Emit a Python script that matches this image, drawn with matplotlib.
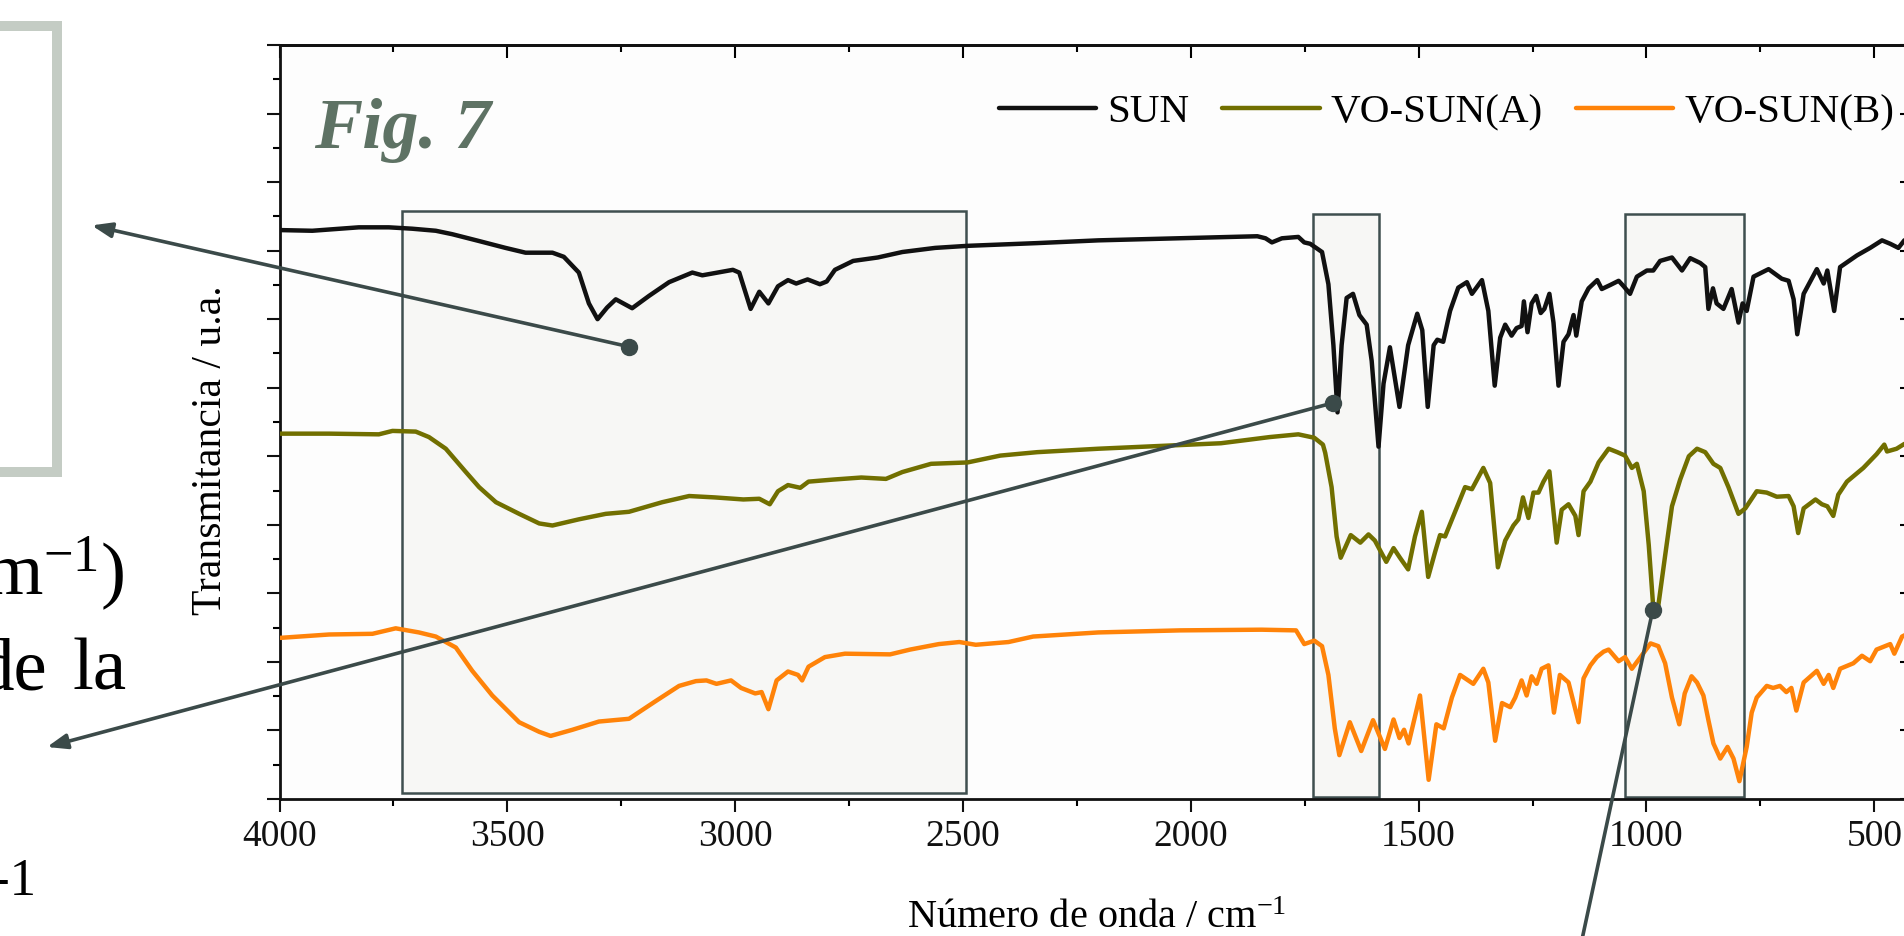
import matplotlib
matplotlib.use('Agg')
import matplotlib.pyplot as plt
from matplotlib.ticker import MultipleLocator, NullFormatter
from matplotlib.patches import Rectangle

plt.rcParams['font.family'] = ['Liberation Serif', 'DejaVu Serif']
plt.rcParams['mathtext.fontset'] = 'custom'
plt.rcParams['mathtext.rm'] = 'Liberation Serif'
plt.rcParams['mathtext.it'] = 'Liberation Serif:italic'

# --- data (wavenumber in cm-1, transmittance offset in a.u.) ---
sun_wn = [4000, 3928, 3826, 3760, 3709, 3657, 3621, 3562, 3504, 3460,
          3401, 3376, 3343, 3321, 3302, 3281, 3262, 3226, 3189, 3145,
          3094, 3072, 3005, 2991, 2966, 2947, 2927, 2906, 2884, 2866,
          2841, 2814, 2799, 2781, 2741, 2687, 2633, 2561, 2490, 2337,
          2203, 2024, 1854, 1836, 1822, 1800, 1764, 1751, 1738, 1712,
          1698, 1687, 1678, 1669, 1658, 1644, 1630, 1614, 1603, 1588,
          1577, 1563, 1542, 1523, 1503, 1492, 1480, 1467, 1459, 1446,
          1431, 1413, 1394, 1383, 1361, 1347, 1333, 1321, 1310, 1296,
          1285, 1274, 1269, 1261, 1252, 1242, 1232, 1224, 1213, 1204,
          1193, 1182, 1171, 1160, 1154, 1142, 1127, 1108, 1098, 1079,
          1061, 1050, 1036, 1021, 999, 985, 970, 944, 922, 904,
          882, 871, 864, 854, 846, 831, 813, 798, 789, 780,
          765, 732, 703, 688, 677, 669, 655, 626, 611, 603,
          588, 575, 538, 509, 483, 465, 447, 434, 415]
sun_t = [8.30, 8.29, 8.34, 8.34, 8.32, 8.29, 8.24, 8.14, 8.04, 7.97,
         7.97, 7.91, 7.68, 7.23, 7.00, 7.17, 7.29, 7.16, 7.34, 7.54,
         7.68, 7.64, 7.72, 7.68, 7.15, 7.40, 7.23, 7.48, 7.57, 7.52,
         7.58, 7.51, 7.55, 7.72, 7.85, 7.90, 7.98, 8.04, 8.07, 8.11,
         8.15, 8.18, 8.21, 8.18, 8.12, 8.18, 8.20, 8.12, 8.10, 7.98,
         7.51, 6.62, 5.64, 6.62, 7.31, 7.37, 7.06, 6.92, 6.39, 5.14,
         6.06, 6.59, 5.72, 6.62, 7.08, 6.84, 5.72, 6.62, 6.70, 6.67,
         7.12, 7.46, 7.54, 7.37, 7.57, 7.12, 6.03, 6.73, 6.92, 6.76,
         6.87, 6.90, 7.26, 6.81, 7.23, 7.34, 7.09, 7.15, 7.37, 6.95,
         6.03, 6.67, 6.78, 7.06, 6.76, 7.26, 7.45, 7.57, 7.44, 7.50,
         7.56, 7.48, 7.37, 7.62, 7.71, 7.71, 7.85, 7.90, 7.71, 7.89,
         7.82, 7.76, 7.15, 7.45, 7.23, 7.15, 7.44, 6.95, 7.23, 7.12,
         7.62, 7.73, 7.59, 7.56, 7.29, 6.78, 7.37, 7.73, 7.52, 7.71,
         7.12, 7.76, 7.93, 8.04, 8.15, 8.10, 8.04, 8.15, 8.18]

voa_wn = [4000, 3891, 3782, 3752, 3701, 3672, 3635, 3591, 3562, 3525,
          3474, 3430, 3401, 3343, 3284, 3233, 3160, 3101, 3045, 2982,
          2947, 2924, 2906, 2884, 2857, 2839, 2785, 2723, 2669, 2633,
          2570, 2490, 2418, 2337, 2203, 2069, 1934, 1827, 1764, 1729,
          1710, 1705, 1691, 1680, 1671, 1649, 1628, 1610, 1596, 1571,
          1555, 1541, 1523, 1508, 1493, 1479, 1464, 1453, 1442, 1398,
          1383, 1358, 1343, 1326, 1310, 1292, 1281, 1271, 1259, 1248,
          1237, 1226, 1213, 1197, 1186, 1171, 1156, 1149, 1138, 1123,
          1105, 1083, 1064, 1047, 1032, 1021, 1006, 995, 985, 974,
          959, 944, 926, 907, 889, 871, 853, 838, 820, 798,
          783, 758, 736, 714, 688, 677, 667, 655, 629, 615,
          603, 590, 579, 560, 524, 495, 478, 472, 451, 434,
          415]
voa_t = [5.33, 5.33, 5.32, 5.37, 5.36, 5.28, 5.11, 4.77, 4.55, 4.33,
         4.16, 4.02, 3.99, 4.08, 4.16, 4.19, 4.33, 4.42, 4.40, 4.37,
         4.38, 4.30, 4.49, 4.58, 4.54, 4.63, 4.66, 4.69, 4.67, 4.77,
         4.89, 4.91, 5.01, 5.06, 5.11, 5.15, 5.19, 5.28, 5.32, 5.27,
         5.17, 5.05, 4.55, 3.83, 3.52, 3.85, 3.74, 3.86, 3.77, 3.46,
         3.66, 3.52, 3.35, 3.83, 4.19, 3.24, 3.60, 3.85, 3.83, 4.55,
         4.52, 4.83, 4.61, 3.38, 3.77, 3.99, 4.08, 4.40, 4.10, 4.47,
         4.47, 4.63, 4.78, 3.74, 4.22, 4.30, 4.13, 3.85, 4.49, 4.63,
         4.91, 5.11, 5.06, 5.01, 4.83, 4.89, 4.49, 3.71, 2.79, 2.82,
         3.55, 4.27, 4.66, 5.00, 5.11, 5.06, 4.89, 4.83, 4.55, 4.16,
         4.24, 4.49, 4.47, 4.41, 4.42, 4.27, 3.88, 4.24, 4.37, 4.30,
         4.27, 4.13, 4.44, 4.63, 4.83, 5.03, 5.17, 5.07, 5.11, 5.18,
         5.20]

vob_wn = [4000, 3891, 3796, 3745, 3694, 3657, 3613, 3577, 3533, 3474,
          3430, 3405, 3357, 3299, 3233, 3174, 3123, 3086, 3063, 3041,
          3009, 2987, 2956, 2942, 2927, 2909, 2884, 2862, 2853, 2839,
          2803, 2759, 2660, 2616, 2553, 2508, 2472, 2400, 2346, 2203,
          2024, 1845, 1769, 1751, 1729, 1712, 1698, 1684, 1674, 1651,
          1626, 1600, 1574, 1555, 1542, 1532, 1522, 1497, 1478, 1461,
          1445, 1427, 1409, 1380, 1358, 1347, 1332, 1317, 1299, 1288,
          1274, 1263, 1252, 1241, 1230, 1215, 1203, 1190, 1171, 1149,
          1138, 1123, 1109, 1094, 1083, 1061, 1047, 1032, 1013, 991,
          974, 959, 944, 928, 916, 901, 889, 875, 864, 853,
          838, 822, 809, 796, 780, 769, 758, 736, 722, 707,
          693, 682, 671, 655, 626, 611, 600, 590, 575, 546,
          527, 509, 495, 465, 456, 439, 415]
vob_t = [2.35, 2.40, 2.41, 2.49, 2.43, 2.37, 2.21, 1.87, 1.51, 1.12,
         0.98, 0.92, 1.01, 1.13, 1.17, 1.43, 1.65, 1.72, 1.73, 1.68,
         1.73, 1.62, 1.54, 1.56, 1.31, 1.73, 1.86, 1.81, 1.73, 1.93,
         2.07, 2.12, 2.11, 2.18, 2.26, 2.29, 2.25, 2.29, 2.37, 2.43,
         2.46, 2.47, 2.46, 2.26, 2.31, 2.23, 1.81, 1.03, 0.64, 1.12,
         0.70, 1.15, 0.73, 1.16, 0.89, 1.01, 0.81, 1.51, 0.28, 1.09,
         1.03, 1.48, 1.81, 1.68, 1.90, 1.70, 0.85, 1.40, 1.34, 1.48,
         1.73, 1.51, 1.79, 1.68, 1.90, 1.95, 1.26, 1.81, 1.70, 1.12,
         1.76, 1.95, 2.07, 2.15, 2.18, 2.01, 2.07, 1.90, 2.07, 2.27,
         2.23, 1.98, 1.48, 1.09, 1.54, 1.79, 1.70, 1.51, 1.15, 0.81,
         0.59, 0.76, 0.59, 0.26, 0.76, 1.26, 1.48, 1.65, 1.62, 1.65,
         1.56, 1.62, 1.29, 1.70, 1.87, 1.68, 1.81, 1.62, 1.90, 1.98,
         2.09, 2.01, 2.18, 2.26, 2.12, 2.37, 2.45]

series_names = ['SUN', 'VO-SUN(A)', 'VO-SUN(B)']
series_colors = ['#111111', '#716f00', '#ff8309']

# highlighted bands (cm-1) and their height
band_lo = [2494, 1587, 785]
band_hi = [3731, 1731, 1047]
band_bottom = [0.09, 0.03, 0.03]
band_top = [8.58, 8.53, 8.53]

# dots where the callout arrows start
dot_wn = [3234, 1687, 986]
dot_t = [6.60, 5.78, 2.76]

W, H = 1904, 936
ink = '#3b4a49'


def fx(x):
    return x / W


def fy(y):
    return 1 - y / H


fig = plt.figure(figsize=(W / 100, H / 100), dpi=100)
fig.patch.set_facecolor('white')
ax = fig.add_axes([fx(279.5), fy(799), (1913 - 279.5) / W, 754 / H])
ax.set_facecolor('#fdfdfd')

for lo, hi, b, t in zip(band_lo, band_hi, band_bottom, band_top):
    ax.add_patch(Rectangle((lo, b), hi - lo, t - b, facecolor='#f7f7f5',
                           edgecolor='#3f4f4f', linewidth=1.8, zorder=1))

lines = []
for wn, tr, name, col in zip([sun_wn, voa_wn, vob_wn], [sun_t, voa_t, vob_t],
                             series_names, series_colors):
    ln, = ax.plot(wn, tr, color=col, lw=3.2, label=name, zorder=3,
                  solid_joinstyle='round', solid_capstyle='round')
    lines.append(ln)

ax.set_xlim(4000, 415)
ax.set_ylim(0, 11)

ax.xaxis.set_major_locator(MultipleLocator(500))
ax.xaxis.set_minor_locator(MultipleLocator(250))
ax.yaxis.set_major_locator(MultipleLocator(1))
ax.yaxis.set_minor_locator(MultipleLocator(0.5))
ax.yaxis.set_major_formatter(NullFormatter())
ax.tick_params(which='major', direction='out', length=9.5, width=1.5,
               labelsize=27, pad=5, colors='#111111')
ax.tick_params(which='minor', direction='out', length=5, width=1.5)
for sp in ax.spines.values():
    sp.set_linewidth(2)
    sp.set_color('#111111')

secx = ax.secondary_xaxis('top')
secx.xaxis.set_major_locator(MultipleLocator(500))
secx.xaxis.set_minor_locator(MultipleLocator(250))
secx.tick_params(which='major', direction='in', length=9.5, width=1.5, labeltop=False)
secx.tick_params(which='minor', direction='in', length=5, width=1.5)
secx.spines['top'].set_linewidth(2)

secy = ax.secondary_yaxis('right')
secy.yaxis.set_major_locator(MultipleLocator(1))
secy.yaxis.set_minor_locator(MultipleLocator(0.5))
secy.tick_params(which='major', direction='in', length=9.5, width=1.5, labelright=False)
secy.tick_params(which='minor', direction='in', length=5, width=1.5)

ax.set_xlabel('Número de onda / cm$^{\\mathrm{-1}}$', fontsize=29)
ax.xaxis.set_label_coords(0.5, -0.171)
ax.xaxis.label.set_va('baseline')
ax.set_ylabel('Transmitancia / u.a.', fontsize=30)
ax.yaxis.set_label_coords(-0.042, 0.463)
ax.yaxis.label.set_va('center')

ax.text(0.0211, 0.8634, 'Fig. 7', transform=ax.transAxes, fontsize=52,
        fontweight='bold', fontstyle='italic', color='#5e7264', va='baseline')

ax.legend(handles=lines, ncol=3, loc='center left', bbox_to_anchor=(0.4403, 0.911),
          frameon=False, fontsize=29.6, handlelength=2.37, handletextpad=0.27,
          columnspacing=0.8, borderpad=0, borderaxespad=0)

# callout arrows from the dots to the slide text on the left
arrow_end = [(91.7, 225.4), (47, 747), (1569, 1000)]
for wn, tr, (ex, ey) in zip(dot_wn, dot_t, arrow_end):
    ax.annotate('', xy=(ex, H - ey), xycoords='figure pixels',
                xytext=(wn, tr), textcoords='data',
                arrowprops=dict(arrowstyle='-|>,head_length=1.2,head_width=0.45',
                                color=ink, lw=2.6, mutation_scale=10,
                                shrinkA=0, shrinkB=0),
                annotation_clip=False, zorder=6)
ax.plot(dot_wn, dot_t, 'o', ms=11.5, color=ink, zorder=7, clip_on=False)

# pieces of the slide that sit left of the chart
fig.add_artist(Rectangle((fx(-60), fy(471.5)), fx(57) - fx(-60), (471.5 - 25.5) / H,
                         transform=fig.transFigure, fill=False,
                         edgecolor='#c4ccc4', linewidth=7.2))
fig.text(fx(125), fy(595), 'cm$^{\\mathrm{-1}}$)', fontsize=54, ha='right', va='baseline')
fig.text(fx(47), fy(690), 'de', fontsize=54, ha='right', va='baseline')
fig.text(fx(127), fy(690), 'la', fontsize=54, ha='right', va='baseline')
fig.text(fx(36), fy(895), '-1', fontsize=38, ha='right', va='baseline')

fig.savefig('out.png', dpi=100)
